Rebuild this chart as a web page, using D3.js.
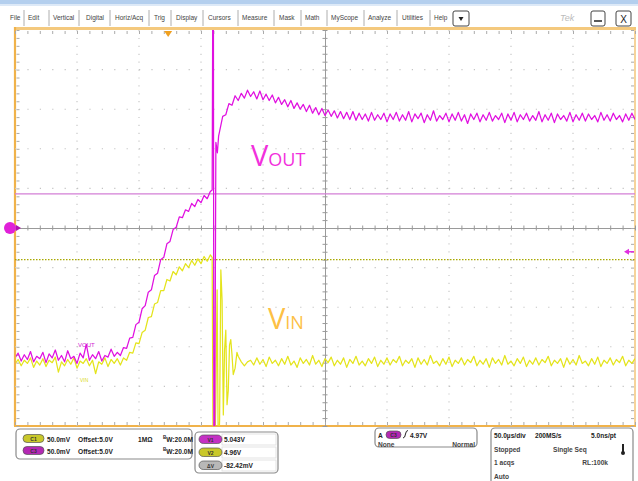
<!DOCTYPE html>
<html><head><meta charset="utf-8">
<script src="https://cdn.jsdelivr.net/npm/d3@7"></script>
<style>
html,body{margin:0;padding:0;background:#fff;}
svg{display:block;font-family:"Liberation Sans",Arial,sans-serif;}
</style></head>
<body><svg id="c" width="638" height="481"></svg>
<script>
// ---------------- DATA ----------------
const timeDomain = [0, 500];          // µs across 10 divisions (50 µs/div)
const voltDomain = [4.75, 5.25];      // V, 50 mV/div, offset 5.0 V
const sampleStep = 2.5;               // µs between listed samples
const triggerTime = 123.5;            // µs
const cursorV1 = 5.043, cursorV2 = 4.96;

const menuItems = ["File","Edit","Vertical","Digital","Horiz/Acq","Trig","Display","Cursors","Measure","Mask","Math","MyScope","Analyze","Utilities","Help"];

// VOUT (C3) samples, t = 0 … 157.5 µs
const voutPre = [4.836,4.842,4.832,4.840,4.834,4.844,4.831,4.838,4.835,4.843,4.830,4.841,4.836,4.846,4.833,4.839,4.831,4.845,4.835,4.838,4.829,4.842,4.836,4.853,4.833,4.840,4.835,4.844,4.832,4.839,4.837,4.847,4.838,
 4.843,4.839,4.849,4.848,4.861,4.862,4.878,4.881,4.898,4.902,4.919,4.922,4.940,4.943,4.960,4.963,4.980,4.983,4.998,5.001,5.014,5.013,5.023,5.021,5.031,5.027,5.036,5.032,5.041,5.037,5.046];
// VOUT switching spike [t µs, V]
const voutSpike = [[159,5.048],[159.5,5.30],[160,5.30],[160.4,4.70],[161,4.70],[162,5.108],[163.2,5.095],[164.2,5.116]];
// VOUT samples, t = 165 … 500 µs
const voutPost = [5.122,5.141,5.143,5.157,5.155,5.167,5.161,5.170,5.164,5.174,5.166,5.172,5.163,5.173,5.162,5.169,5.161,5.168,5.158,5.165,5.156,5.162,5.153,5.161,5.151,5.158,5.150,5.156,5.147,5.155,5.145,5.152,5.143,5.151,5.142,5.149,5.141,5.148,5.139,5.147,5.138,5.146,5.137,5.147,5.136,5.145,5.137,5.144,5.135,5.146,5.136,5.143,5.137,5.145,5.134,5.144,5.137,5.146,5.135,5.143,5.136,5.147,5.134,5.144,5.138,5.145,5.133,5.143,5.136,5.148,5.135,5.142,5.137,5.145,5.134,5.144,5.136,5.146,5.135,5.143,5.132,5.144,5.137,5.145,5.134,5.143,5.136,5.146,5.135,5.142,5.137,5.145,5.133,5.144,5.136,5.146,5.134,5.143,5.137,5.145,5.135,5.142,5.136,5.147,5.134,5.143,5.136,5.145,5.133,5.144,5.137,5.142,5.135,5.146,5.134,5.143,5.136,5.145,5.135,5.144,5.137,5.142,5.134,5.146,5.136,5.143,5.135,5.145,5.137,5.142,5.134,5.144,5.136,5.145,5.137];

// VIN (C1) samples, t = 0 … 157.5 µs
const vinPre = [4.828,4.834,4.826,4.833,4.829,4.836,4.824,4.832,4.827,4.835,4.825,4.833,4.830,4.837,4.818,4.831,4.826,4.834,4.828,4.836,4.823,4.832,4.829,4.835,4.826,4.833,4.816,4.831,4.828,4.836,4.825,4.834,4.829,4.835,4.827,
 4.836,4.833,4.843,4.842,4.855,4.854,4.868,4.871,4.887,4.888,4.904,4.906,4.921,4.921,4.935,4.933,4.945,4.941,4.951,4.946,4.955,4.950,4.959,4.953,4.961,4.955,4.964,4.958,4.966];
// VIN switching spike and ringing [t µs, V]
const vinSpike = [[159,4.963],[159.8,4.70],[161,4.70],[162,4.789],[163,4.922],[164,4.70],[165,4.758],[166,4.947],[167,4.909],[168,4.764],[169,4.846],[170,4.871],[171,4.777],[172,4.795],[173,4.852],[174,4.859],[175,4.840],[176,4.815],[177.5,4.823],[179,4.843],[180,4.838],[182.5,4.831],[185,4.826],[187.5,4.831]];
// VIN samples, t = 190 … 500 µs
const vinPost = [4.833,4.827,4.836,4.828,4.834,4.825,4.837,4.829,4.833,4.826,4.835,4.828,4.838,4.827,4.832,4.824,4.836,4.829,4.834,4.827,4.839,4.828,4.833,4.825,4.835,4.830,4.837,4.826,4.833,4.828,4.836,4.824,4.834,4.829,4.838,4.827,4.832,4.826,4.835,4.829,4.837,4.825,4.833,4.828,4.836,4.827,4.834,4.830,4.838,4.826,4.833,4.829,4.835,4.824,4.836,4.828,4.834,4.827,4.839,4.829,4.832,4.826,4.835,4.828,4.837,4.825,4.833,4.829,4.836,4.827,4.834,4.830,4.838,4.826,4.833,4.828,4.835,4.824,4.836,4.829,4.834,4.827,4.839,4.828,4.832,4.826,4.835,4.829,4.837,4.825,4.833,4.828,4.836,4.827,4.834,4.830,4.838,4.826,4.833,4.829,4.835,4.824,4.836,4.828,4.834,4.827,4.839,4.829,4.832,4.826,4.835,4.828,4.837,4.825,4.833,4.829,4.836,4.827,4.834,4.830,4.838,4.826,4.833,4.829,4.835];

// readout texts
const ch1Row = ["C1","50.0mV","Offset:5.0V","1MΩ","20.0M"];
const ch3Row = ["C3","50.0mV","Offset:5.0V","","20.0M"];
const cursorRows = [["V1","5.043V"],["V2","4.96V"],["ΔV","-82.42mV"]];
const trigText = ["A","C3","4.97V","None","Normal"];
const horizText = [["50.0µs/div","200MS/s","5.0ns/pt"],["Stopped","Single Seq",""],["1 acqs","","RL:100k"],["Auto","",""]];

// ---------------- DRAW ----------------
const svg = d3.select("#c");
const x = d3.scaleLinear().domain(timeDomain).range([15, 635]);
const y = d3.scaleLinear().domain(voltDomain).range([426, 30]);

function series(pre, t0pre, spike, post, t0post){
  const a = pre.map((v,i)=>[t0pre+i*sampleStep, v]);
  const b = post.map((v,i)=>[t0post+i*sampleStep, v]);
  return a.concat(spike, b);
}
const vout = series(voutPre, 0, voutSpike, voutPost, 165);
const vin = series(vinPre, 0, vinSpike, vinPost, 190);

// top bar
svg.append("rect").attr("x",0).attr("y",0).attr("width",638).attr("height",4).attr("fill","#b4cfee");
svg.append("rect").attr("x",0).attr("y",4).attr("width",638).attr("height",2).attr("fill","#dde9f7");
const menuX = [10,28,53,86,115,154,176,208,242,279,305,331,368,402,434];
const sepX = [24,49,79,110,149,171,203,238,274,301,327,364,397,430];
const mg = svg.append("g").attr("font-size",6.5).attr("fill","#444");
mg.selectAll("text").data(menuItems).join("text").attr("x",(d,i)=>menuX[i]).attr("y",20).text(d=>d);
svg.selectAll("line.sep").data(sepX).join("line").attr("class","sep")
  .attr("x1",d=>d).attr("x2",d=>d).attr("y1",10).attr("y2",26).attr("stroke","#999").attr("stroke-width",0.8);
function btn(x0,w){ svg.append("rect").attr("x",x0).attr("y",11).attr("width",w).attr("height",15).attr("rx",2).attr("fill","#fff").attr("stroke","#444").attr("stroke-width",1); }
btn(453,16); btn(591,14); btn(616,15);
svg.append("path").attr("d","M458.5,17 L463.5,17 L461,21 Z").attr("fill","#222");
svg.append("line").attr("x1",594).attr("x2",602).attr("y1",21).attr("y2",21).attr("stroke","#222").attr("stroke-width",1.5);
svg.append("text").attr("x",623.5).attr("y",22.5).attr("text-anchor","middle").attr("font-size",10).attr("fill","#222").text("X");
svg.append("text").attr("x",560).attr("y",21).attr("font-size",9).attr("fill","#bbb").attr("font-style","italic").text("Tek");

// plot border
svg.append("rect").attr("x",14).attr("y",27).attr("width",622).attr("height",3).attr("fill","#f4c97e");
svg.append("line").attr("x1",15).attr("x2",15).attr("y1",27).attr("y2",426).attr("stroke","#f0b24a").attr("stroke-width",2.2);
svg.append("line").attr("x1",635).attr("x2",635).attr("y1",27).attr("y2",426).attr("stroke","#f3c57a").attr("stroke-width",1.5);
svg.append("line").attr("x1",14).attr("x2",636).attr("y1",426).attr("y2",426).attr("stroke","#f0b24a").attr("stroke-width",2);

// graticule
const majorT = d3.range(50, 500, 50).filter(d=>d!==250);
const majorV = d3.range(1, 10).map(i=>4.75+i*0.05).filter(v=>Math.abs(v-5)>1e-6);
const grid = svg.append("g").attr("stroke","#c4c4c4").attr("stroke-width",1.1);
grid.selectAll("line.v").data(majorT).join("line").attr("class","v")
  .attr("x1",d=>x(d)).attr("x2",d=>x(d)).attr("y1",30).attr("y2",426).attr("stroke-dasharray","1.2,6.7");
grid.selectAll("line.h").data(majorV).join("line").attr("class","h")
  .attr("y1",d=>y(d)).attr("y2",d=>y(d)).attr("x1",15).attr("x2",635).attr("stroke-dasharray","1.2,11.2");

const minorT = d3.range(0, 501, 10);
const minorV = d3.range(0, 51).map(i=>4.75+i*0.01);
function axisStyle(g){ g.selectAll("text").remove(); g.selectAll("line").attr("stroke","#9a9a9a"); g.select(".domain").attr("stroke","#9a9a9a"); }
svg.append("g").attr("transform",`translate(0,${y(5)})`).call(d3.axisBottom(x).tickValues(minorT).tickSize(2.5).tickSizeOuter(0).tickFormat("")).call(axisStyle);
svg.append("g").attr("transform",`translate(0,${y(5)})`).call(d3.axisTop(x).tickValues(minorT).tickSize(2.5).tickSizeOuter(0).tickFormat("")).call(axisStyle);
svg.append("g").attr("transform",`translate(${x(250)},0)`).call(d3.axisLeft(y).tickValues(minorV).tickSize(2.5).tickSizeOuter(0).tickFormat("")).call(axisStyle);
svg.append("g").attr("transform",`translate(${x(250)},0)`).call(d3.axisRight(y).tickValues(minorV).tickSize(2.5).tickSizeOuter(0).tickFormat("")).call(axisStyle);
function edge(g){ g.selectAll("text").remove(); g.select(".domain").remove(); g.selectAll("line").attr("stroke","#aaa"); }
svg.append("g").attr("transform","translate(0,31)").call(d3.axisBottom(x).tickValues(minorT).tickSize(3).tickFormat("")).call(edge);
svg.append("g").attr("transform","translate(0,425)").call(d3.axisTop(x).tickValues(minorT).tickSize(3).tickFormat("")).call(edge);
svg.append("g").attr("transform","translate(16.5,0)").call(d3.axisRight(y).tickValues(minorV).tickSize(3).tickFormat("")).call(edge);
svg.append("g").attr("transform","translate(634,0)").call(d3.axisLeft(y).tickValues(minorV).tickSize(3).tickFormat("")).call(edge);

// cursors
svg.append("line").attr("x1",15).attr("x2",635).attr("y1",y(cursorV1)).attr("y2",y(cursorV1)).attr("stroke","#d37fd6").attr("stroke-width",1.3);
svg.append("line").attr("x1",15).attr("x2",635).attr("y1",y(cursorV2)).attr("y2",y(cursorV2)).attr("stroke","#a8a800").attr("stroke-width",1.2).attr("stroke-dasharray","1.5,1.5");

// traces
svg.append("clipPath").attr("id","pc").append("rect").attr("x",16).attr("y",30).attr("width",619).attr("height",396);
const line = d3.line().x(d=>x(d[0])).y(d=>y(d[1]));
const tg = svg.append("g").attr("clip-path","url(#pc)");
tg.append("path").datum(vin).attr("d",line).attr("fill","none").attr("stroke","#e4e41c").attr("stroke-width",1.25).attr("stroke-linejoin","round");
tg.append("path").datum(vout).attr("d",line).attr("fill","none").attr("stroke","#e010e0").attr("stroke-width",1.25).attr("stroke-linejoin","round");

// markers
svg.append("path").attr("d",`M${x(triggerTime)-4},31 L${x(triggerTime)+4},31 L${x(triggerTime)},37 Z`).attr("fill","#f0a020");
svg.append("circle").attr("cx",10).attr("cy",y(5)).attr("r",6).attr("fill","#e020d8");
svg.append("path").attr("d",`M16,${y(5)-3} L21,${y(5)} L16,${y(5)+3} Z`).attr("fill","#b010b0");
svg.append("path").attr("d",`M624,${y(4.97)} L629,${y(4.97)-3} L629,${y(4.97)+3} Z M628,${y(4.97)-0.7} h6 v1.4 h-6 Z`).attr("fill","#e030e0");

// labels
const lv = svg.append("text").attr("x",251).attr("y",166).attr("fill","#f230dc").attr("font-family","'Open Sans',sans-serif");
lv.append("tspan").attr("font-size",29).text("V");
lv.append("tspan").attr("font-size",18).text("OUT");
const li = svg.append("text").attr("x",268).attr("y",329).attr("fill","#fdc044").attr("font-family","'Open Sans',sans-serif");
li.append("tspan").attr("font-size",29).text("V");
li.append("tspan").attr("font-size",18).text("IN");
svg.append("text").attr("x",78).attr("y",347).attr("font-size",6).attr("fill","#d020d0").text("VOUT");
svg.append("text").attr("x",80).attr("y",382).attr("font-size",5).attr("fill","#d8d820").text("VIN");

// ---------------- readout panel ----------------
const rp = svg.append("g").attr("font-size",6.6).attr("font-weight","bold").attr("fill","#222");
function box(x0,y0,w,h){ rp.append("rect").attr("x",x0).attr("y",y0).attr("width",w).attr("height",h).attr("rx",4).attr("fill","#fff").attr("stroke","#8a8a8a").attr("stroke-width",1.2); }
function badge(x0,y0,w,h,fill,label){
  rp.append("rect").attr("x",x0).attr("y",y0).attr("width",w).attr("height",h).attr("rx",h/2).attr("fill",fill).attr("stroke","#555").attr("stroke-width",0.7);
  rp.append("text").attr("x",x0+w/2).attr("y",y0+h-2).attr("text-anchor","middle").attr("font-size",5).attr("fill","#333").text(label);
}
box(16,429,176,30);
[ch1Row, ch3Row].forEach((r,i)=>{
  const yy = 441.5 + i*12;
  badge(23, yy-7, 21, 8, i===0 ? "#c9c82a" : "#b428b4", r[0]);
  rp.append("text").attr("x",47).attr("y",yy).text(r[1]);
  rp.append("text").attr("x",78).attr("y",yy).text(r[2]);
  if(r[3]) rp.append("text").attr("x",138).attr("y",yy).text(r[3]);
  const bw = rp.append("text").attr("x",163).attr("y",yy);
  bw.append("tspan").attr("font-size",4.5).attr("dy",-2.5).text("B");
  bw.append("tspan").attr("dy",2.5).text("W:"+r[4]);
});
box(195,432,83,41);
cursorRows.forEach((r,i)=>{
  const yy = 442 + i*13;
  rp.append("rect").attr("x",222).attr("y",yy-8).attr("width",54).attr("height",11).attr("fill","#fff").attr("stroke","#ddd").attr("stroke-width",0.8);
  badge(199, yy-7, 23, 8.5, i===0 ? "#c431c4" : i===1 ? "#c9c82a" : "#b8b8b8", r[0]);
  rp.append("text").attr("x",224).attr("y",yy).text(r[1]);
});
box(375,428,102,19);
rp.append("text").attr("x",378).attr("y",437.5).text(trigText[0]);
badge(386,431,15,7.5,"#b428b4",trigText[1]);
rp.append("path").attr("d","M403,438 Q405,438 405.5,434 Q406,430.5 408,430.5").attr("fill","none").attr("stroke","#222").attr("stroke-width",1);
rp.append("text").attr("x",410).attr("y",437.5).text(trigText[2]);
rp.append("text").attr("x",378).attr("y",447).attr("fill","#444").text(trigText[3]);
rp.append("text").attr("x",475).attr("y",447).attr("text-anchor","end").attr("fill","#444").text(trigText[4]);
box(491,428,142,60);
const hx = [494,535,616];
horizText.forEach((r,i)=>{
  const yy = 438 + i*13.7;
  r.forEach((t,j)=>{
    if(!t) return;
    let xx = hx[j], anchor = j===2 ? "end" : "start";
    if(i===1 && j===1) xx = 553;
    if(i===2 && j===2) xx = 608;
    rp.append("text").attr("x",xx).attr("y",yy).attr("text-anchor",anchor).attr("fill", i===0 ? "#222" : "#444").text(t);
  });
});
// thermometer icon
rp.append("rect").attr("x",622).attr("y",444).attr("width",2).attr("height",8).attr("fill","#222");
rp.append("circle").attr("cx",623).attr("cy",453).attr("r",2).attr("fill","#222");
</script></body></html>
